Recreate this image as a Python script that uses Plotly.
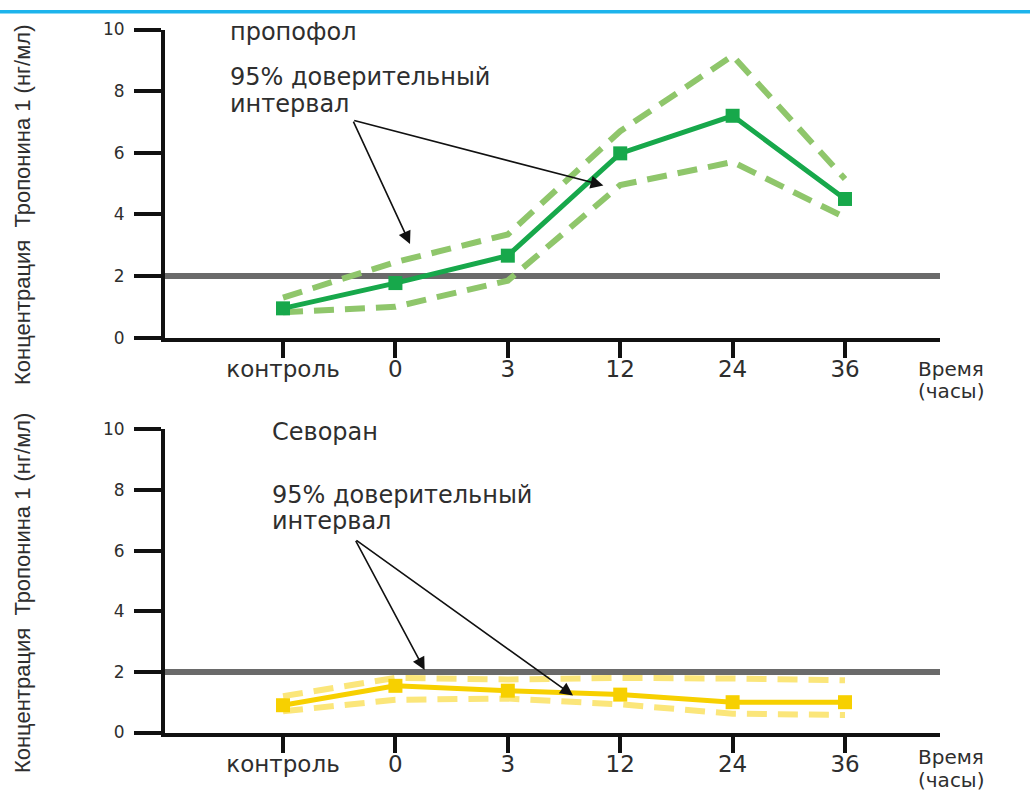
import plotly.graph_objects as go

categories = ["контроль", "0", "3", "12", "24", "36"]
y_ticks = [0, 2, 4, 6, 8, 10]

propofol_mean = [0.95, 1.77, 2.66, 5.98, 7.2, 4.5]
propofol_upper = [1.3, 2.45, 3.35, 6.7, 9.15, 5.15]
propofol_lower = [0.82, 1.0, 1.85, 4.95, 5.7, 3.9]

sevoran_mean = [0.9, 1.54, 1.38, 1.25, 1.0, 1.0]
sevoran_upper = [1.2, 1.8, 1.75, 1.8, 1.78, 1.72]
sevoran_lower = [0.7, 1.08, 1.12, 0.93, 0.62, 0.58]

threshold = 2

W, H = 1030, 802
TXT = "#2e2e2e"
WIDE = "DejaVu Sans, sans-serif"

def px(v):
    return v / W

def py(v):
    return 1 - v / H

fig = go.Figure()

panels = [
    dict(xa="x", ya="y", mean=propofol_mean, up=propofol_upper, lo=propofol_lower,
         main="#17a84b", light="#8fc66b"),
    dict(xa="x2", ya="y2", mean=sevoran_mean, up=sevoran_upper, lo=sevoran_lower,
         main="#f7d000", light="#fbe67a"),
]

for p in panels:
    for s in (p["up"], p["lo"]):
        fig.add_trace(go.Scatter(x=categories, y=s, mode="lines", xaxis=p["xa"], yaxis=p["ya"],
                                 line=dict(color=p["light"], width=6, dash="20px,11px"),
                                 cliponaxis=False, showlegend=False, hoverinfo="skip"))
    fig.add_trace(go.Scatter(x=categories, y=p["mean"], mode="lines+markers", xaxis=p["xa"], yaxis=p["ya"],
                             line=dict(color=p["main"], width=5),
                             marker=dict(symbol="square", size=14, color=p["main"]),
                             cliponaxis=False, showlegend=False))

xrange = [-1.05, 5.845]
xdomain = [px(165), px(940)]

axis_x_common = dict(
    type="category", categoryorder="array", categoryarray=categories,
    range=xrange, domain=xdomain, showgrid=False, zeroline=False,
    showline=True, linecolor="#111111", linewidth=4,
    ticks="outside", ticklen=16, tickwidth=4, tickcolor="#111111",
    ticklabelstandoff=-8,
    tickfont=dict(family=WIDE, size=23, color=TXT),
    fixedrange=True,
)
axis_y_common = dict(
    range=[0, 10], tickvals=y_ticks, showgrid=False, zeroline=False,
    showline=True, linecolor="#111111", linewidth=4,
    ticks="outside", ticklen=27, tickwidth=3.5, tickcolor="#111111",
    ticklabelstandoff=6,
    tickfont=dict(family=WIDE, size=17, color=TXT),
    fixedrange=True,
)

fig.update_layout(
    width=W, height=H,
    margin=dict(l=0, r=0, t=0, b=0),
    paper_bgcolor="white", plot_bgcolor="white",
    xaxis=dict(axis_x_common, anchor="y"),
    yaxis=dict(axis_y_common, anchor="x", domain=[py(336), py(20)]),
    xaxis2=dict(axis_x_common, anchor="y2"),
    yaxis2=dict(axis_y_common, anchor="x2", domain=[py(741), py(430)]),
)

for xr, yr in (("x domain", "y"), ("x2 domain", "y2")):
    fig.add_shape(type="line", xref=xr, yref=yr, x0=0, x1=1, y0=threshold, y1=threshold,
                  line=dict(color="#6a6a6a", width=6), layer="below")

fig.add_shape(type="rect", xref="paper", yref="paper", x0=0, x1=1, y0=py(3.5), y1=1,
              fillcolor="#1db4ec", line=dict(width=0))

ann = []
def text(x, y, t, size=24, family=WIDE, **kw):
    ann.append(dict(x=px(x), y=py(y), xref="paper", yref="paper", text=t, showarrow=False,
                    xanchor=kw.pop("xanchor", "left"), yanchor=kw.pop("yanchor", "middle"),
                    align=kw.pop("align", "left"),
                    font=dict(family=family, size=size, color=TXT), **kw))

text(228, 23, "пропофол")
text(228, 69, "95% доверительный")
text(228, 96, "интервал")
text(270, 433, "Севоран")
text(270, 497, "95% доверительный")
text(270, 524, "интервал")
text(916, 368, "Время", size=20)
text(916, 391, "(часы)", size=20)
text(916, 766, "Время", size=20)
text(916, 790, "(часы)", size=20)

ytitle = "Концентрация  Тропонина 1 (нг/мл)"
NARROW = "Liberation Sans Narrow, Liberation Sans, sans-serif"
text(22, 200, ytitle, size=22, family=NARROW, textangle=-90, xanchor="center", align="center")
text(22, 598, ytitle, size=22, family=NARROW, textangle=-90, xanchor="center", align="center")

arrows = [
    ("x", "y", 0.62, 7.06, 1.13, 3.04),
    ("x", "y", 0.62, 7.06, 2.85, 4.94),
    ("x2", "y2", 0.64, 6.37, 1.26, 2.06),
    ("x2", "y2", 0.64, 6.37, 2.58, 1.22),
]
for xr, yr, x0, y0, x1, y1 in arrows:
    ann.append(dict(x=x1, y=y1, ax=x0, ay=y0, xref=xr, yref=yr, axref=xr, ayref=yr,
                    showarrow=True, arrowhead=2, arrowsize=1.6, arrowwidth=1.6,
                    arrowcolor="#111111", text=""))

fig.update_layout(annotations=ann)

fig.write_html("out.html")
